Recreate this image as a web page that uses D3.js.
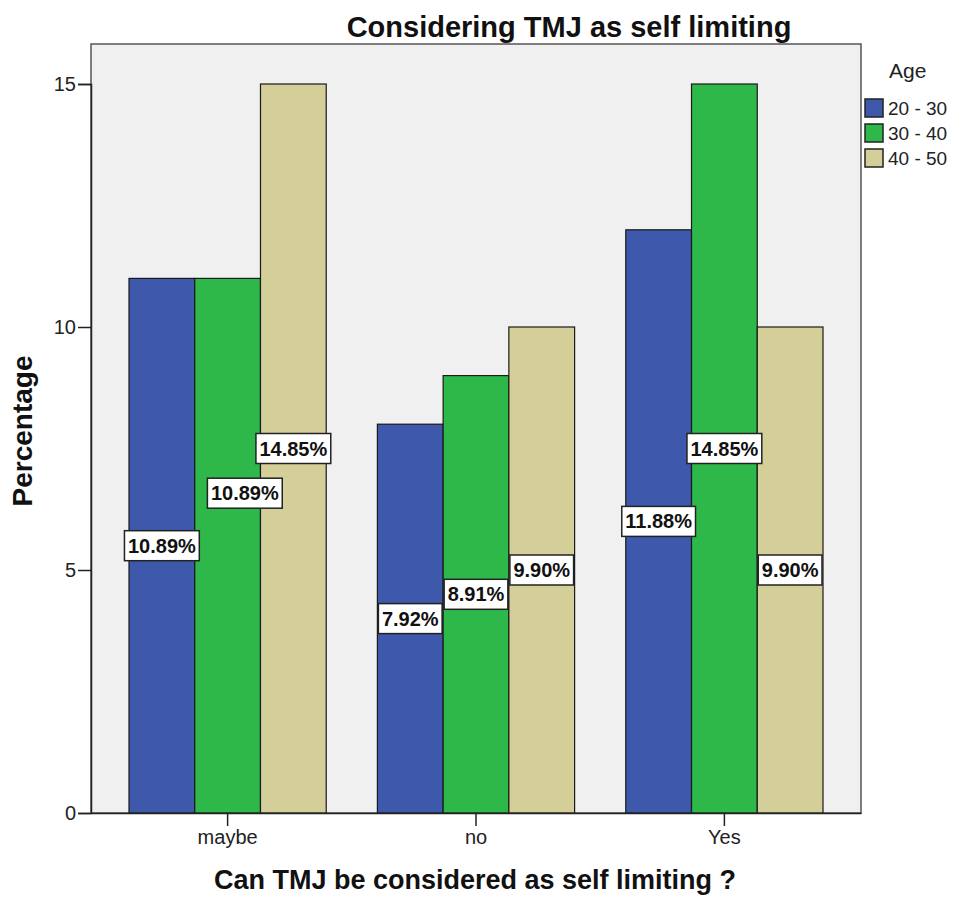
<!DOCTYPE html>
<html>
<head>
<meta charset="utf-8">
<script src="https://cdn.jsdelivr.net/npm/d3@7"></script>
<style>
  html, body { margin: 0; padding: 0; background: #ffffff; }
  svg { display: block; }
</style>
</head>
<body>
<svg id="chart" width="957" height="898"></svg>
<script>
// Answers on the x axis and the age bands drawn inside each group
const categories = ["maybe", "no", "Yes"];
const ageGroups = ["20 - 30", "30 - 40", "40 - 50"];
// Respondent counts per answer, one array per age band
const counts2030 = [11, 8, 12];
const counts3040 = [11, 9, 15];
const counts4050 = [15, 10, 10];
const totalRespondents = 101;
const yTicks = [0, 5, 10, 15];
const colors = ["#3e58ac", "#2fb84a", "#d4cf98"];

const seriesCounts = [counts2030, counts3040, counts4050];
const rows = [];
categories.forEach((c, ci) => {
  ageGroups.forEach((g, gi) => {
    const v = seriesCounts[gi][ci];
    rows.push({ category: c, group: g, gi, value: v, pct: v / totalRespondents * 100 });
  });
});

const svg = d3.select("#chart");
const font = "'Liberation Sans', Arial, sans-serif";
const plot = { left: 91, top: 44, right: 861, bottom: 813 };

const x = d3.scaleBand().domain(categories)
  .range([plot.left, plot.right]).paddingInner(0.206).paddingOuter(0.153);
const xi = d3.scaleBand().domain(ageGroups).range([0, x.bandwidth()]);
const y = d3.scaleLinear().domain([0, 15]).range([plot.bottom, 84]);

// plot background and frame
svg.append("rect")
  .attr("x", plot.left).attr("y", plot.top)
  .attr("width", plot.right - plot.left).attr("height", plot.bottom - plot.top)
  .attr("fill", "#f0f0f0").attr("stroke", "#555").attr("stroke-width", 1.5);

// bars
svg.append("g").selectAll("rect").data(rows).join("rect")
  .attr("x", d => x(d.category) + xi(d.group))
  .attr("y", d => y(d.value))
  .attr("width", xi.bandwidth())
  .attr("height", d => y(0) - y(d.value))
  .attr("fill", d => colors[d.gi])
  .attr("stroke", "#1a1a1a").attr("stroke-width", 1.2);

// y axis
const yAxis = svg.append("g").attr("transform", `translate(${plot.left},0)`)
  .call(d3.axisLeft(y).tickValues(yTicks).tickSize(13).tickPadding(2).tickFormat(d3.format("d")));
yAxis.select(".domain").attr("stroke", "#222").attr("stroke-width", 1.5);
yAxis.selectAll(".tick line").attr("stroke", "#222").attr("stroke-width", 1.5);
yAxis.selectAll("text").attr("font-family", font).attr("font-size", 20).attr("fill", "#222");

// x axis
const xAxis = svg.append("g").attr("transform", `translate(0,${plot.bottom})`)
  .call(d3.axisBottom(x).tickSize(13).tickPadding(4).tickSizeOuter(0));
xAxis.select(".domain").attr("stroke", "#222").attr("stroke-width", 1.5);
xAxis.selectAll(".tick line").attr("stroke", "#222").attr("stroke-width", 1.5);
xAxis.selectAll("text").attr("font-family", font).attr("font-size", 20).attr("fill", "#222");

// percentage labels at bar mid-height, nudged when they collide with a neighbour
const labelG = svg.append("g");
const placed = [];
rows.forEach(d => {
  const cx = x(d.category) + xi(d.group) + xi.bandwidth() / 2;
  let cy = (y(d.value) + y(0)) / 2;
  const g = labelG.append("g");
  const t = g.append("text")
    .attr("text-anchor", "middle").attr("dominant-baseline", "central")
    .attr("font-family", font)
    .attr("font-weight", "bold").attr("font-size", 20).attr("fill", "#111")
    .text(d.pct.toFixed(2) + "%");
  const w = t.node().getComputedTextLength() + 7, h = 30;
  let dx = 0;
  const prev = placed.find(p => p.category === d.category &&
    Math.abs(p.cy - cy) < h && Math.abs(p.cx - cx) < (p.w + w) / 2);
  if (prev) { cy = prev.cy - 1.75 * h; dx = 0.23 * w; }
  placed.push({ category: d.category, cx: cx + dx, cy, w });
  g.attr("transform", `translate(${cx + dx},${cy})`);
  g.insert("rect", "text")
    .attr("x", -w / 2).attr("y", -h / 2).attr("width", w).attr("height", h)
    .attr("fill", "#fff").attr("stroke", "#222").attr("stroke-width", 1.5);
});

// titles
svg.append("text").attr("x", 569).attr("y", 37).attr("text-anchor", "middle")
  .attr("font-family", font).attr("font-weight", "bold").attr("font-size", 29).attr("fill", "#111")
  .text("Considering TMJ as self limiting");
svg.append("text").attr("x", 475).attr("y", 889).attr("text-anchor", "middle")
  .attr("font-family", font).attr("font-weight", "bold").attr("font-size", 27).attr("fill", "#111")
  .text("Can TMJ be considered as self limiting ?");
svg.append("text").attr("transform", "translate(32,431) rotate(-90)").attr("text-anchor", "middle")
  .attr("font-family", font).attr("font-weight", "bold").attr("font-size", 28).attr("fill", "#111")
  .text("Percentage");

// legend
const legend = svg.append("g");
legend.append("text").attr("x", 889).attr("y", 78)
  .attr("font-family", font).attr("font-size", 21).attr("fill", "#222").text("Age");
ageGroups.forEach((g, i) => {
  legend.append("rect").attr("x", 865).attr("y", 99 + i * 25).attr("width", 18).attr("height", 18)
    .attr("fill", colors[i]).attr("stroke", "#222").attr("stroke-width", 1.5);
  legend.append("text").attr("x", 888).attr("y", 115 + i * 25)
    .attr("font-family", font).attr("font-size", 19).attr("fill", "#222").text(g);
});
</script>
</body>
</html>
